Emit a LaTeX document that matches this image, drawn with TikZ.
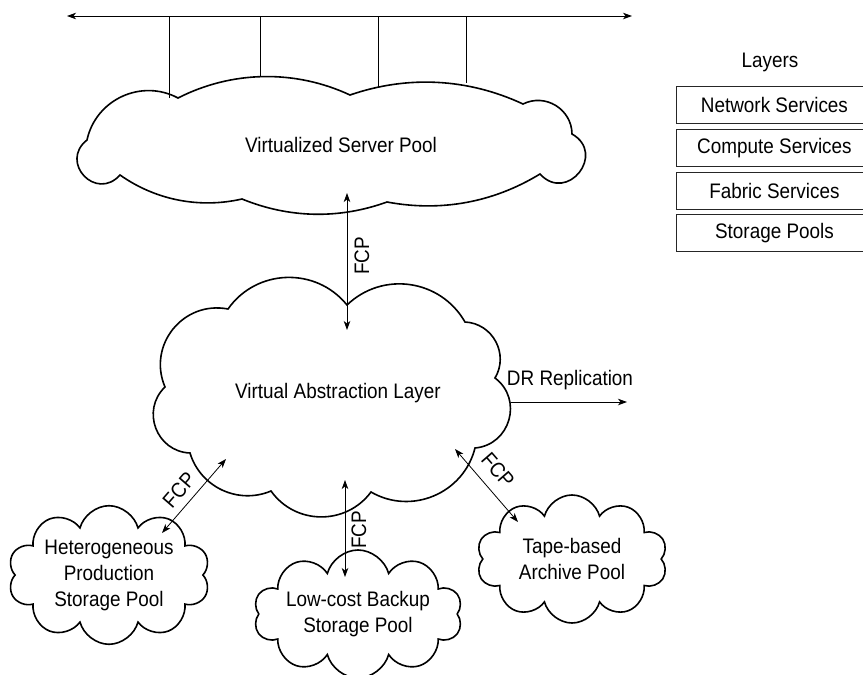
\documentclass[tikz,border=0pt]{standalone}
\usepackage{fontspec}
\setmainfont{Liberation Sans}[FakeStretch=0.9]
\usetikzlibrary{arrows.meta,shapes.symbols}
\tikzset{
  lobe/.style 2 args={bend left=#1,looseness=#2},
  txt/.style={font=\fontsize{21}{26}\selectfont, inner sep=1pt},
  cloudline/.style={line width=1.6pt, line join=miter},
  conn/.style={line width=0.8pt},
  tip/.tip={Stealth[length=9pt,width=6.5pt,inset=2.5pt]},
  twoway/.style={conn, tip-tip},
  oneway/.style={conn, -tip},
  smallcloud/.style={cloud, draw, cloudline, cloud puffs=10, cloud ignores aspect,
    inner sep=0pt, align=center, font=\fontsize{21}{26}\selectfont},
  layerbox/.style={draw=black!85, line width=0.9pt, minimum width=196pt,
    minimum height=37pt, anchor=north west, inner sep=0pt,
    font=\fontsize{21}{24}\selectfont}
}
\begin{document}
\begin{tikzpicture}[x=1pt,y=-1pt]
\useasboundingbox (0,0) rectangle (863,675);
\clip (0,0) rectangle (863,675);

% network bus
\coordinate (busL) at (67,16);
\coordinate (busR) at (632,16);
\draw[twoway] (busL) -- (busR);
\foreach \x/\y [count=\i] in {169/98, 260/77, 378/87, 466/83}{
  \coordinate (tap\i) at (\x,16);
  \coordinate (top\i) at (\x,\y);
  \draw[conn] (tap\i) -- (top\i);
}

% virtualized server pool cloud
\draw[cloudline] (87,140) to[lobe={53}{1.06}] (178,98)
  to[lobe={26}{0.9}] (350,95)
  to[lobe={22}{0.9}] (523,104)
  to[lobe={58}{1.11}] (572,134)
  to[lobe={99}{2.0}] (540,174)
  to[lobe={21}{0.9}] (387,202)
  to[lobe={21}{0.9}] (242,199)
  to[lobe={24}{0.9}] (120,175)
  to[lobe={95}{1.9}] (87,140) -- cycle;
\node[txt] (vsp) at (341,145) {Virtualized Server Pool};

% virtual abstraction layer cloud
\draw[cloudline] (347,305) to[lobe={52}{1.06}] (465,322)
  to[lobe={59}{1.12}] (495,378)
  to[lobe={69}{1.25}] (475,448)
  to[lobe={53}{1.06}] (371,492)
  to[lobe={54}{1.07}] (271,491)
  to[lobe={48}{1.02}] (190,453)
  to[lobe={67}{1.22}] (165,387)
  to[lobe={62}{1.16}] (228,309)
  to[lobe={53}{1.06}] (347,305) -- cycle;
\node[txt] (val) at (338,393) {Virtual Abstraction Layer};

% storage pools
\node[smallcloud, minimum width=202pt, minimum height=134pt] (hps) at (109,575)
  {Heterogeneous\\Production\\Storage Pool};
\node[smallcloud, minimum width=190pt, minimum height=128pt] (lcb) at (358,614)
  {Low-cost Backup\\Storage Pool};
\node[smallcloud, minimum width=191pt, minimum height=128pt] (tbp) at (572,559)
  {Tape-based\\Archive Pool};

% FCP links
\coordinate (s1) at (347,193); \coordinate (s2) at (347,330);
\draw[twoway] (s1) -- (s2);
\node[txt, rotate=90] (fcp1) at (362,256) {FCP};

\coordinate (l1) at (226,459); \coordinate (l2) at (162,533);
\draw[twoway] (l1) -- (l2);
\node[txt, rotate=49] (fcp2) at (179,490) {FCP};

\coordinate (m1) at (345,480); \coordinate (m2) at (345,577);
\draw[twoway] (m1) -- (m2);
\node[txt, rotate=90] (fcp3) at (359,530) {FCP};

\coordinate (r1) at (455,449); \coordinate (r2) at (518,522);
\draw[twoway] (r1) -- (r2);
\node[txt, rotate=-49] (fcp4) at (498,470) {FCP};

% DR replication
\coordinate (d1) at (511,402); \coordinate (d2) at (627,402);
\draw[oneway] (d1) -- (d2);
\node[txt] (drl) at (570,380) {DR Replication};

% layers legend
\node[txt] (lay) at (770,62) {Layers};
\node[layerbox] (ly1) at (676,86) {Network Services};
\node[layerbox] (ly2) at (676,129) {Compute Services};
\node[layerbox] (ly3) at (676,172) {Fabric Services};
\node[layerbox] (ly4) at (676,214) {Storage Pools};
\end{tikzpicture}
\end{document}
